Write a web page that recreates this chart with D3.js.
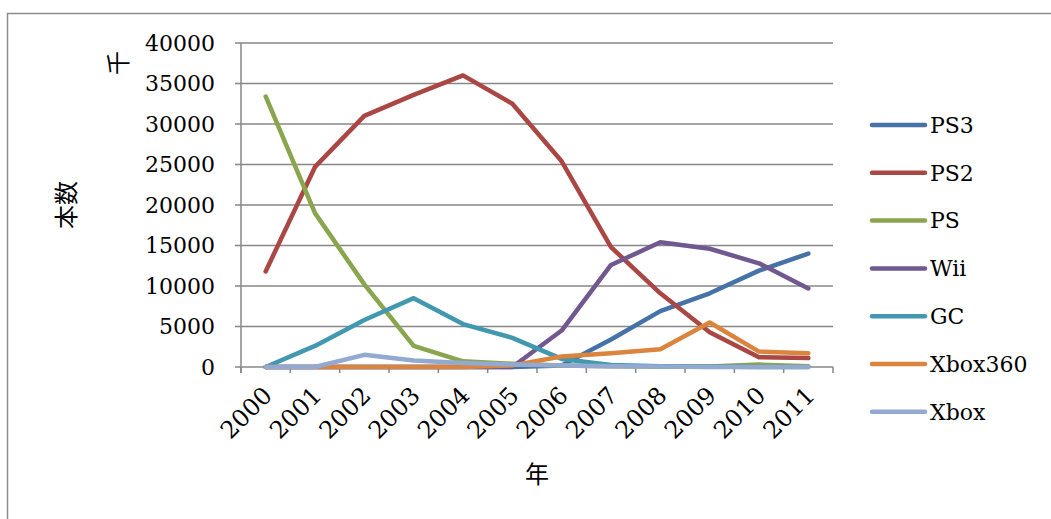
<!DOCTYPE html>
<html>
<head>
<meta charset="utf-8">
<script src="https://cdn.jsdelivr.net/npm/d3@7"></script>
<style>
  body { margin: 0; background: #fff; }
  text { font-family: "DejaVu Serif", serif; fill: #000; }
  .cjk { font-family: "Noto Sans CJK JP", sans-serif; }
</style>
</head>
<body>
<script>
var w = 1051;
var h = 519;

// data (thousands of units)
var years = ["2000","2001","2002","2003","2004","2005","2006","2007","2008","2009","2010","2011"];
var seriesNames = ["PS3","PS2","PS","Wii","GC","Xbox360","Xbox"];
var colors = ["#4572A7","#AA4643","#89A54E","#71588F","#4198AF","#DB843D","#93A9CF"];
var ps3     = [0, 0, 0, 0, 0, 0, 200, 3400, 6900, 9100, 11900, 14000];
var ps2     = [11800, 24700, 31000, 33600, 36000, 32500, 25400, 14800, 9100, 4300, 1200, 1100];
var ps      = [33400, 19000, 10200, 2600, 700, 400, 200, 100, 50, 50, 300, 100];
var wii     = [0, 0, 0, 0, 0, 0, 4500, 12600, 15400, 14600, 12800, 9700];
var gc      = [0, 2600, 5800, 8500, 5300, 3600, 1000, 250, 100, 50, 0, 0];
var xbox360 = [0, 0, 0, 0, 0, 200, 1300, 1700, 2200, 5500, 1900, 1700];
var xbox    = [0, 0, 1500, 800, 500, 300, 200, 100, 50, 0, 0, 0];
var yTicks  = [0, 5000, 10000, 15000, 20000, 25000, 30000, 35000, 40000];

var seriesValues = [ps3, ps2, ps, wii, gc, xbox360, xbox];

var svg = d3.select("body").append("svg")
    .attr("width", w)
    .attr("height", h);

// outer frame
svg.append("rect")
    .attr("x", 7.5).attr("y", 13.5)
    .attr("width", w).attr("height", h)
    .style("fill", "none")
    .style("stroke", "#8c8c8c")
    .style("stroke-width", 1.5);

var plotLeft = 241, plotRight = 833, plotTop = 43, plotBottom = 367;

var x = d3.scaleBand().domain(years).range([plotLeft, plotRight]);
var y = d3.scaleLinear().domain([0, 40000]).range([plotBottom, plotTop]);

// gridlines
svg.append("g").selectAll("line")
    .data(yTicks)
    .enter().append("line")
    .attr("x1", plotLeft - 6).attr("x2", plotRight)
    .attr("y1", function(d){ return y(d); })
    .attr("y2", function(d){ return y(d); })
    .style("stroke", "#878787")
    .style("stroke-width", 1.5);

// y axis line
svg.append("line")
    .attr("x1", plotLeft).attr("x2", plotLeft)
    .attr("y1", plotTop).attr("y2", plotBottom + 6)
    .style("stroke", "#878787").style("stroke-width", 1.5);

// x tick marks between categories
var xTickPos = years.map(function(d){ return x(d); }).concat([plotRight]);
svg.append("g").selectAll("line")
    .data(xTickPos)
    .enter().append("line")
    .attr("x1", function(d){ return d; })
    .attr("x2", function(d){ return d; })
    .attr("y1", plotBottom).attr("y2", plotBottom + 6)
    .style("stroke", "#878787").style("stroke-width", 1.5);

// y labels
svg.append("g").selectAll("text")
    .data(yTicks)
    .enter().append("text")
    .attr("x", 215)
    .attr("y", function(d){ return y(d); })
    .attr("dy", "0.35em")
    .attr("text-anchor", "end")
    .style("font-size", "22px")
    .text(function(d){ return d; });

// x labels rotated
svg.append("g").selectAll("text")
    .data(years)
    .enter().append("text")
    .attr("text-anchor", "end")
    .attr("transform", function(d){
      var cx = x(d) + x.bandwidth() / 2 + 8;
      return "translate(" + cx + "," + 397 + ") rotate(-45)";
    })
    .style("font-size", "24px")
    .text(function(d){ return d; });

// axis titles
svg.append("text")
    .attr("class", "cjk")
    .attr("transform", "translate(75,205) rotate(-90)")
    .attr("text-anchor", "middle")
    .style("font-size", "24px")
    .text("本数");

svg.append("text")
    .attr("class", "cjk")
    .attr("transform", "translate(127,63) rotate(-90)")
    .attr("text-anchor", "middle")
    .style("font-size", "24px")
    .text("千");

svg.append("text")
    .attr("class", "cjk")
    .attr("x", 537).attr("y", 483)
    .attr("text-anchor", "middle")
    .style("font-size", "24px")
    .text("年");

// lines
var line = d3.line()
    .x(function(d, i){ return x(years[i]) + x.bandwidth() / 2; })
    .y(function(d){ return y(d); });

svg.append("g").selectAll("path")
    .data(seriesValues)
    .enter().append("path")
    .attr("d", line)
    .style("fill", "none")
    .style("stroke", function(d, i){ return colors[i]; })
    .style("stroke-width", 4.5)
    .style("stroke-linejoin", "round")
    .style("stroke-linecap", "round");

// legend
var legend = svg.append("g").selectAll("g")
    .data(seriesNames)
    .enter().append("g")
    .attr("transform", function(d, i){ return "translate(872," + (125 + i * 47.8) + ")"; });

legend.append("line")
    .attr("x1", 0).attr("x2", 53)
    .attr("y1", 0).attr("y2", 0)
    .style("stroke", function(d, i){ return colors[i]; })
    .style("stroke-width", 4.5)
    .style("stroke-linecap", "round");

legend.append("text")
    .attr("x", 58)
    .attr("dy", "0.35em")
    .style("font-size", "22px")
    .text(function(d){ return d; });
</script>
</body>
</html>
